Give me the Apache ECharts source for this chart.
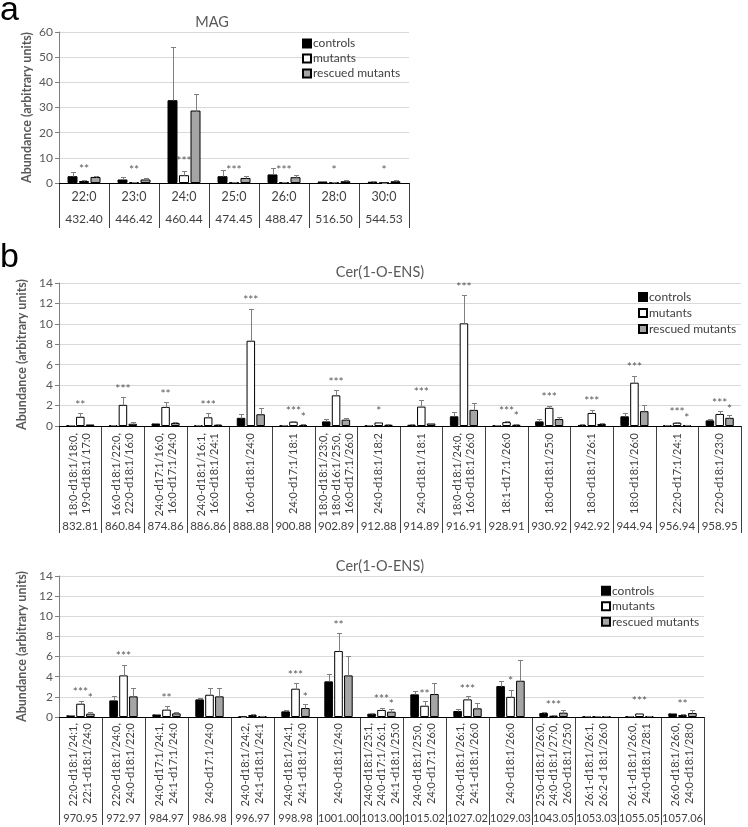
<!DOCTYPE html>
<html><head><meta charset="utf-8">
<script src="https://cdn.jsdelivr.net/npm/echarts@6/dist/echarts.min.js"></script>
<style>html,body{margin:0;padding:0;background:#fff}#c{width:748px;height:827px}</style>
</head><body><div id="c"></div>
<script>
// ---------------- DATA ----------------
const seriesNames = ['controls', 'mutants', 'rescued mutants'];

// Panel a: MAG
const magCats = ['22:0', '23:0', '24:0', '25:0', '26:0', '28:0', '30:0'];
const magMass = ['432.40', '446.42', '460.44', '474.45', '488.47', '516.50', '544.53'];
const magCtrl = [2.7, 1.4, 32.9, 2.7, 3.4, 0.6, 0.5];
const magCtrlSd = [1.6, 1.0, 21.3, 2.3, 2.6, 0.2, 0.1];
const magMut = [0.8, 0.3, 3.1, 0.2, 0.2, 0.15, 0.1];
const magMutSd = [0.3, 0.1, 1.7, 0.1, 0.1, 0.05, 0.05];
const magRes = [2.4, 1.4, 28.8, 2.0, 2.3, 0.7, 0.7];
const magResSd = [0.3, 0.4, 6.4, 0.6, 0.7, 0.3, 0.3];
const magSigMut = ['**', '**', '***', '***', '***', '*', '*'];
const magSigMutY = [5.5, 5.2, 8.5, 5.3, 5.3, 5.2, 5.2];
const magSigRes = ['', '', '', '', '', '', ''];
const magSigResY = [0, 0, 0, 0, 0, 0, 0];

// Panel b (upper): Cer(1-O-ENS)
const cer1Cats = [
  '18:0-d18:1/18:0,\n19:0-d18:1/17:0',
  '16:0-d18:1/22:0,\n22:0-d18:1/16:0',
  '24:0-d17:1/16:0,\n16:0-d17:1/24:0',
  '24:0-d18:1/16:1,\n16:0-d18:1/24:1',
  '16:0-d18:1/24:0',
  '24:0-d17:1/18:1',
  '18:0-d18:1/23:0,\n18:0-d16:1/25:0,\n16:0-d17:1/26:0',
  '24:0-d18:1/18:2',
  '24:0-d18:1/18:1',
  '18:0-d18:1/24:0,\n16:0-d18:1/26:0',
  '18:1-d17:1/26:0',
  '18:0-d18:1/25:0',
  '18:0-d18:1/26:1',
  '18:0-d18:1/26:0',
  '22:0-d17:1/24:1',
  '22:0-d18:1/23:0'
];
const cer1Mass = ['832.81', '860.84', '874.86', '886.86', '888.88', '900.88', '902.89', '912.88',
  '914.89', '916.91', '928.91', '930.92', '942.92', '944.94', '956.94', '958.95'];
const cer1Ctrl = [0.05, 0.05, 0.25, 0.05, 0.8, 0.05, 0.45, 0.05, 0.12, 0.95, 0.05, 0.45, 0.1, 0.95, 0.05, 0.55];
const cer1CtrlSd = [0.02, 0.02, 0.08, 0.02, 0.35, 0.02, 0.2, 0.02, 0.05, 0.4, 0.02, 0.2, 0.05, 0.33, 0.02, 0.1];
const cer1Mut = [0.9, 2.07, 1.87, 0.85, 8.35, 0.42, 3.0, 0.35, 1.9, 10.05, 0.38, 1.78, 1.28, 4.24, 0.32, 1.18];
const cer1MutSd = [0.4, 0.78, 0.5, 0.42, 3.15, 0.08, 0.55, 0.05, 0.65, 2.75, 0.07, 0.22, 0.3, 0.7, 0.05, 0.32];
const cer1Res = [0.15, 0.22, 0.3, 0.12, 1.15, 0.1, 0.62, 0.12, 0.25, 1.58, 0.12, 0.68, 0.2, 1.45, 0.1, 0.8];
const cer1ResSd = [0.05, 0.13, 0.1, 0.05, 0.65, 0.05, 0.18, 0.04, 0.08, 0.7, 0.05, 0.22, 0.05, 0.65, 0.04, 0.3];
const cer1SigMut = ['**', '***', '**', '***', '***', '***', '***', '*', '***', '***', '***', '***', '***', '***', '***', '***'];
const cer1SigMutY = [2.0, 3.6, 3.1, 2.0, 12.3, 1.5, 4.3, 1.45, 3.3, 13.6, 1.45, 2.86, 2.4, 5.8, 1.4, 2.24];
const cer1SigRes = ['', '', '', '', '', '*', '', '', '', '', '*', '', '', '', '*', '*'];
const cer1SigResY = [0, 0, 0, 0, 0, 0.9, 0, 0, 0, 0, 0.92, 0, 0, 0, 0.8, 1.65];

// Panel b (lower): Cer(1-O-ENS)
const cer2Cats = [
  '22:0-d18:1/24:1,\n22:1-d18:1/24:0',
  '22:0-d18:1/24:0,\n24:0-d18:1/22:0',
  '24:0-d17:1/24:1,\n24:1-d17:1/24:0',
  '24:0-d17:1/24:0',
  '24:0-d18:1/24:2,\n24:1-d18:1/24:1',
  '24:0-d18:1/24:1,\n24:1-d18:1/24:0',
  '24:0-d18:1/24:0',
  '24:0-d18:1/25:1,\n24:0-d17:1/26:1,\n24:1-d18:1/25:0',
  '24:0-d18:1/25:0,\n24:0-d17:1/26:0',
  '24:0-d18:1/26:1,\n24:1-d18:1/26:0',
  '24:0-d18:1/26:0',
  '25:0-d18:1/26:0,\n24:0-d18:1/27:0,\n26:0-d18:1/25:0',
  '26:1-d18:1/26:1,\n26:2-d 18:1/26:0',
  '26:1-d18:1/26:0,\n24:0-d18:1/28:1',
  '26:0-d18:1/26:0,\n24:0-d18:1/28:0'
];
const cer2Mass = ['970.95', '972.97', '984.97', '986.98', '996.97', '998.98', '1001.00', '1013.00',
  '1015.02', '1027.02', '1029.03', '1043.05', '1053.03', '1055.05', '1057.06'];
const cer2Ctrl = [0.17, 1.65, 0.26, 1.75, 0.03, 0.56, 3.54, 0.33, 2.25, 0.6, 3.07, 0.4, 0.05, 0.05, 0.36];
const cer2CtrlSd = [0.05, 0.4, 0.07, 0.17, 0.01, 0.17, 0.72, 0.1, 0.33, 0.2, 0.47, 0.05, 0.02, 0.02, 0.06];
const cer2Mut = [1.32, 4.13, 0.73, 2.21, 0.2, 2.81, 6.55, 0.7, 1.12, 1.75, 2.0, 0.13, 0.1, 0.35, 0.2];
const cer2MutSd = [0.23, 1.03, 0.33, 0.63, 0.05, 0.59, 1.78, 0.23, 0.43, 0.3, 0.7, 0.03, 0.03, 0.05, 0.05];
const cer2Res = [0.33, 2.05, 0.36, 2.05, 0.07, 0.89, 4.13, 0.53, 2.28, 0.86, 3.6, 0.43, 0.05, 0.1, 0.4];
const cer2ResSd = [0.17, 0.83, 0.14, 0.83, 0.02, 0.43, 1.95, 0.27, 1.12, 0.56, 2.05, 0.3, 0.02, 0.03, 0.3];
const cer2SigMut = ['***', '***', '**', '', '', '***', '**', '***', '**', '***', '*', '***', '', '***', '**'];
const cer2SigMutY = [2.45, 6.0, 1.85, 0, 0, 4.13, 9.16, 1.8, 2.25, 2.8, 3.57, 1.22, 0, 1.55, 1.25];
const cer2SigRes = ['*', '', '', '', '', '*', '', '*', '', '', '', '', '', '', ''];
const cer2SigResY = [1.9, 0, 0, 0, 0, 1.98, 0, 1.3, 0, 0, 0, 0, 0, 0, 0];

const yTicksMag = {min: 0, max: 60, interval: 10};
const yTicksCer = {min: 0, max: 14, interval: 2};

// ---------------- STYLE / LAYOUT ----------------
const FONT = 'Lato, "Liberation Sans", sans-serif';
const fills = ['#000000', '#ffffff', '#a5a5a5'];
const CAT_GAP = 0.34, BAR_GAP = 0.15;
const TXT = '#595959';
const TBL = '#404040';

const panels = [
  {
    cats: magCats, mass: magMass,
    vals: [magCtrl, magMut, magRes], sds: [magCtrlSd, magMutSd, magResSd],
    sig: [[magSigMut, magSigMutY, 1], [magSigRes, magSigResY, 2]],
    y: yTicksMag, rotate: 0,
    grid: {left: 59, width: 350, top: 32, height: 151}, table: 45,
    nameMargin: 7, massMargin: 3, nameSize: 12.5, lh: 14, massSize: 12
  },
  {
    cats: cer1Cats, mass: cer1Mass,
    vals: [cer1Ctrl, cer1Mut, cer1Res], sds: [cer1CtrlSd, cer1MutSd, cer1ResSd],
    sig: [[cer1SigMut, cer1SigMutY, 1], [cer1SigRes, cer1SigResY, 2]],
    y: yTicksCer, rotate: 90,
    grid: {left: 59, width: 682, top: 283, height: 143}, table: 107,
    nameMargin: 7, massMargin: 1, nameSize: 11, lh: 13, massSize: 11.5
  },
  {
    cats: cer2Cats, mass: cer2Mass,
    vals: [cer2Ctrl, cer2Mut, cer2Res], sds: [cer2CtrlSd, cer2MutSd, cer2ResSd],
    sig: [[cer2SigMut, cer2SigMutY, 1], [cer2SigRes, cer2SigResY, 2]],
    y: yTicksCer, rotate: 90,
    grid: {left: 59, width: 645, top: 576, height: 141}, table: 108,
    nameMargin: 6, massMargin: 1, nameSize: 11, lh: 13.5, massSize: 11
  }
];

const option = {
  animation: false,
  textStyle: {fontFamily: FONT},
  title: [
    {text: 'a', left: 0, top: -6, padding: 0, textStyle: {fontFamily: '"Liberation Sans", Arial, sans-serif', fontSize: 34, fontWeight: 'normal', color: '#000'}},
    {text: 'b', left: 0, top: 241, padding: 0, textStyle: {fontFamily: '"Liberation Sans", Arial, sans-serif', fontSize: 34, fontWeight: 'normal', color: '#000'}},
    {text: 'MAG', left: 212, textAlign: 'center', top: 15, padding: 0, textStyle: {fontFamily: FONT, fontSize: 14.5, fontWeight: 'normal', color: TXT}},
    {text: 'Cer(1-O-ENS)', left: 380, textAlign: 'center', top: 265, padding: 0, textStyle: {fontFamily: FONT, fontSize: 14.5, fontWeight: 'normal', color: TXT}},
    {text: 'Cer(1-O-ENS)', left: 380, textAlign: 'center', top: 559, padding: 0, textStyle: {fontFamily: FONT, fontSize: 14.5, fontWeight: 'normal', color: TXT}}
  ],
  legend: [
    {left: 302, top: 36, lh: 15},
    {left: 638, top: 289, lh: 16},
    {left: 601, top: 583, lh: 15.5}
  ].map(l => ({
    left: l.left, top: l.top, orient: 'vertical', padding: 0, itemGap: 0,
    itemWidth: 8, itemHeight: 8, icon: 'rect', selectedMode: false,
    data: seriesNames,
    textStyle: {fontFamily: FONT, fontSize: 12, color: TBL, lineHeight: l.lh, padding: [0, 0, 0, -3]}
  })),
  grid: [], xAxis: [], yAxis: [], series: []
};

panels.forEach((p, pi) => {
  const g = option.grid.length;
  option.grid.push({left: p.grid.left, width: p.grid.width, top: p.grid.top, height: p.grid.height});
  option.grid.push({left: p.grid.left, width: p.grid.width, top: p.grid.top + p.grid.height, height: p.table});

  const xa = option.xAxis.length;
  option.xAxis.push({
    gridIndex: g, type: 'category', data: p.mass, boundaryGap: true,
    axisLine: {lineStyle: {color: '#000', width: 1}}, axisTick: {show: false}, axisLabel: {show: false}
  });
  // table: names (top, inside) with cell separators
  option.xAxis.push({
    gridIndex: g + 1, type: 'category', data: p.mass, position: 'top', boundaryGap: true,
    axisLine: {show: false}, axisTick: {show: false, interval: 0},
    splitLine: {show: true, interval: 0, lineStyle: {color: TBL, width: 1}},
    axisLabel: {
      inside: true, interval: 0, rotate: p.rotate, margin: p.nameMargin,
      fontFamily: FONT, fontSize: p.nameSize, color: TBL, lineHeight: p.lh,
      formatter: (v, i) => p.cats[i]
    }
  });
  // table: masses (bottom, inside)
  option.xAxis.push({
    gridIndex: g + 1, type: 'category', data: p.mass, position: 'bottom', boundaryGap: true,
    axisLine: {show: false}, axisTick: {show: false},
    axisLabel: {inside: true, interval: 0, margin: p.massMargin, fontFamily: FONT, fontSize: p.massSize, color: TBL}
  });

  const ya = option.yAxis.length;
  option.yAxis.push({
    gridIndex: g, type: 'value', min: p.y.min, max: p.y.max, interval: p.y.interval,
    axisLine: {show: true, lineStyle: {color: '#7f7f7f'}},
    axisTick: {show: true, length: 4, lineStyle: {color: '#7f7f7f'}},
    axisLabel: {fontFamily: FONT, fontSize: 12, color: TXT, margin: 6},
    splitLine: {lineStyle: {color: '#d9d9d9', width: 1}},
    name: 'Abundance (arbitrary units)', nameLocation: 'middle', nameGap: 26, nameRotate: 90,
    nameTextStyle: {fontFamily: FONT, fontSize: 12.5, fontWeight: 'bold', color: TXT}
  });
  option.yAxis.push({gridIndex: g + 1, type: 'value', min: 0, max: 1, show: false});

  // bars
  p.vals.forEach((vals, s) => {
    option.series.push({
      type: 'bar', name: seriesNames[s], xAxisIndex: xa, yAxisIndex: ya,
      data: vals, barCategoryGap: (CAT_GAP * 100) + '%', barGap: (BAR_GAP * 100) + '%',
      itemStyle: {color: fills[s], borderColor: '#000', borderWidth: 1},
      silent: true, z: 2
    });
  });

  const offsetFor = (api, s) => {
    const band = api.size([1, 0])[0];
    const groupW = band * (1 - CAT_GAP);
    const barW = groupW / (3 + 2 * BAR_GAP);
    return (s - 1) * barW * (1 + BAR_GAP);
  };

  // error bars (upper SD)
  p.vals.forEach((vals, s) => {
    option.series.push({
      type: 'custom', name: seriesNames[s] + ' sd', xAxisIndex: xa, yAxisIndex: ya,
      data: vals.map((v, i) => [i, v, v + p.sds[s][i]]),
      silent: true, z: 3,
      renderItem: (params, api) => {
        const i = api.value(0);
        const b = api.coord([i, api.value(1)]);
        const t = api.coord([i, api.value(2)]);
        const x = Math.round(b[0] + offsetFor(api, s)) + 0.5;
        const y1 = Math.round(b[1]) + 0.5, y2 = Math.round(t[1]) + 0.5;
        const cap = 2.5;
        return {type: 'group', children: [
          {type: 'line', shape: {x1: x, y1: y1, x2: x, y2: y2}, style: {stroke: '#808080', lineWidth: 1}},
          {type: 'line', shape: {x1: x - cap, y1: y2, x2: x + cap, y2: y2}, style: {stroke: '#808080', lineWidth: 1}}
        ]};
      }
    });
  });

  // significance stars
  const sigData = [];
  p.sig.forEach(([txt, ys, s]) => txt.forEach((t, i) => { if (t) sigData.push([i, ys[i], s, t]); }));
  option.series.push({
    type: 'custom', name: 'sig', xAxisIndex: xa, yAxisIndex: ya,
    data: sigData, silent: true, z: 4,
    renderItem: (params, api) => {
      const item = sigData[params.dataIndex];
      const c = api.coord([item[0], item[1]]);
      return {type: 'text', x: c[0] + offsetFor(api, item[2]), y: c[1],
        style: {text: item[3], fontFamily: FONT, fontSize: 12, fill: TXT, align: 'center', verticalAlign: 'middle'}};
    }
  });
});

const chart = echarts.init(document.getElementById('c'), null, {renderer: 'canvas'});
chart.setOption(option);
</script></body></html>
